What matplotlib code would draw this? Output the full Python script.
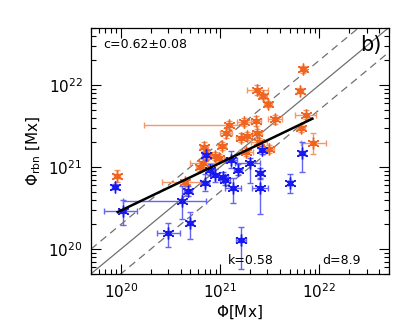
import numpy as np
import matplotlib
matplotlib.use("Agg")
import matplotlib.pyplot as plt
from matplotlib.ticker import LogLocator, NullFormatter

# ---- data (log10 values, errors in dex) ----
or_logx = [19.96, 21.83, 21.80, 21.376, 21.43, 21.48, 21.86, 21.81, 21.555, 21.36,
           21.24, 21.09, 21.06, 21.21, 21.27, 21.376, 21.39, 21.02, 20.84, 21.49,
           21.26, 21.94, 20.99, 20.87, 20.83, 20.80, 20.65, 20.95]
or_logy = [20.89, 22.19, 21.93, 21.94, 21.865, 21.77, 21.64, 21.48, 21.58, 21.56,
           21.55, 21.51, 21.42, 21.36, 21.38, 21.416, 21.31, 21.26, 21.25, 21.22,
           21.18, 21.29, 21.11, 21.15, 21.05, 21.00, 20.82, 21.13]
or_xlo = [0.03, 0.03, 0.03, 0.11, 0.04, 0.04, 0.11, 0.04, 0.07, 0.05,
          0.07, 0.86, 0.06, 0.05, 0.05, 0.05, 0.08, 0.04, 0.04, 0.05,
          0.07, 0.13, 0.05, 0.04, 0.13, 0.04, 0.24, 0.05]
or_xhi = [0.03, 0.03, 0.03, 0.11, 0.04, 0.04, 0.11, 0.04, 0.07, 0.05,
          0.07, 0.15, 0.06, 0.05, 0.05, 0.05, 0.08, 0.04, 0.04, 0.05,
          0.07, 0.13, 0.05, 0.04, 0.13, 0.04, 0.15, 0.05]
or_ylo = [0.07, 0.04, 0.03, 0.06, 0.04, 0.04, 0.06, 0.05, 0.05, 0.06,
          0.05, 0.05, 0.06, 0.05, 0.05, 0.05, 0.05, 0.05, 0.06, 0.05,
          0.05, 0.13, 0.05, 0.05, 0.05, 0.05, 0.04, 0.05]
or_yhi = or_ylo

bl_logx = [19.94, 20.02, 20.48, 20.615, 20.70, 20.68, 20.85, 20.90, 20.95, 21.03,
           21.05, 21.13, 21.11, 21.18, 21.30, 21.40, 21.40, 21.42, 21.21, 21.70,
           21.82, 20.86]
bl_logy = [20.76, 20.47, 20.20, 20.585, 20.32, 20.71, 20.81, 20.97, 20.90, 20.88,
           20.84, 20.74, 21.09, 20.97, 21.055, 20.93, 20.75, 21.21, 20.11, 20.81,
           21.17, 21.15]
bl_xlo = [0.03, 0.19, 0.12, 0.59, 0.03, 0.04, 0.04, 0.04, 0.04, 0.05,
          0.05, 0.08, 0.06, 0.04, 0.15, 0.03, 0.08, 0.03, 0.05, 0.02,
          0.03, 0.04]
bl_xhi = [0.03, 0.14, 0.12, 0.24, 0.03, 0.04, 0.04, 0.04, 0.04, 0.05,
          0.05, 0.08, 0.06, 0.04, 0.10, 0.03, 0.08, 0.03, 0.05, 0.02,
          0.03, 0.04]
bl_ylo = [0.03, 0.18, 0.17, 0.22, 0.19, 0.06, 0.10, 0.07, 0.08, 0.06,
          0.06, 0.18, 0.10, 0.07, 0.25, 0.06, 0.32, 0.05, 0.35, 0.13,
          0.23, 0.06]
bl_yhi = [0.03, 0.13, 0.12, 0.18, 0.13, 0.06, 0.10, 0.07, 0.08, 0.06,
          0.06, 0.13, 0.10, 0.07, 0.06, 0.06, 0.10, 0.05, 0.16, 0.11,
          0.14, 0.06]

fit_k = 0.58
fit_logy_at21 = 21.05
fit_xrange = [9.3e19, 8.5e21]
band_factor = 2.0
lims = [5e19, 5e22]

OR_C = '#f06420'
OR_E = '#f59868'
BL_C = '#1818f0'
BL_E = '#6464f5'

fig = plt.figure(figsize=(4.15, 3.32), dpi=100)
ax = fig.add_axes([0.219, 0.175, 0.718, 0.742])
ax.set_xscale('log')
ax.set_yscale('log')
ax.set_xlim(lims)
ax.set_ylim(lims)

# reference lines
xx = np.array(lims)
ax.plot(xx, xx, color='#707070', lw=0.9, zorder=1)
ax.plot(xx, xx * band_factor, color='#707070', lw=0.9, ls=(0, (6, 4)), zorder=1)
ax.plot(xx, xx / band_factor, color='#707070', lw=0.9, ls=(0, (6, 4)), zorder=1)


def draw(lx, ly, xlo, xhi, ylo, yhi, c, ec):
    lx = np.array(lx); ly = np.array(ly)
    x = 10 ** lx; y = 10 ** ly
    xe = [x - 10 ** (lx - np.array(xlo)), 10 ** (lx + np.array(xhi)) - x]
    ye = [y - 10 ** (ly - np.array(ylo)), 10 ** (ly + np.array(yhi)) - y]
    ax.errorbar(x, y, xerr=xe, yerr=ye, fmt='none', ecolor=ec, elinewidth=1.0,
                capsize=2, capthick=1.0, zorder=2)
    ax.plot(x, y, ls='none', marker=(6, 2, 0), ms=8.5, mec=c, mew=1.0, zorder=3)
    ax.plot(x, y, ls='none', marker='s', ms=3.5, mfc='none', mec=c, mew=0.9, zorder=3)


draw(or_logx, or_logy, or_xlo, or_xhi, or_ylo, or_yhi, OR_C, OR_E)
draw(bl_logx, bl_logy, bl_xlo, bl_xhi, bl_ylo, bl_yhi, BL_C, BL_E)

# fit line
fx = np.array(fit_xrange)
fy = 10 ** (fit_logy_at21 + fit_k * (np.log10(fx) - 21))
ax.plot(fx, fy, color='black', lw=1.8, zorder=4)

# ticks
for a in (ax.xaxis, ax.yaxis):
    a.set_major_locator(LogLocator(base=10, numticks=10))
    a.set_minor_locator(LogLocator(base=10, subs=np.arange(2, 10), numticks=20))
    a.set_minor_formatter(NullFormatter())
ax.tick_params(which='both', direction='in', top=True, right=True, width=0.8)
ax.tick_params(which='major', length=7, labelsize=11, pad=6)
ax.tick_params(which='minor', length=3.5)
for s in ax.spines.values():
    s.set_linewidth(0.9)

ax.set_xlabel(r'$\Phi$[Mx]', fontsize=11, labelpad=2)
ax.set_ylabel(r'$\Phi_{\rm rbn}$ [Mx]', fontsize=11, labelpad=4)

ax.text(0.04, 0.93, 'c=0.62±0.08', transform=ax.transAxes, fontsize=9, va='center')
ax.text(0.975, 0.93, 'b)', transform=ax.transAxes, fontsize=15, va='center', ha='right')
ax.text(0.46, 0.055, 'k=0.58', transform=ax.transAxes, fontsize=9, va='center')
ax.text(0.775, 0.055, 'd=8.9', transform=ax.transAxes, fontsize=9, va='center')

fig.savefig('out.png', dpi=100)
